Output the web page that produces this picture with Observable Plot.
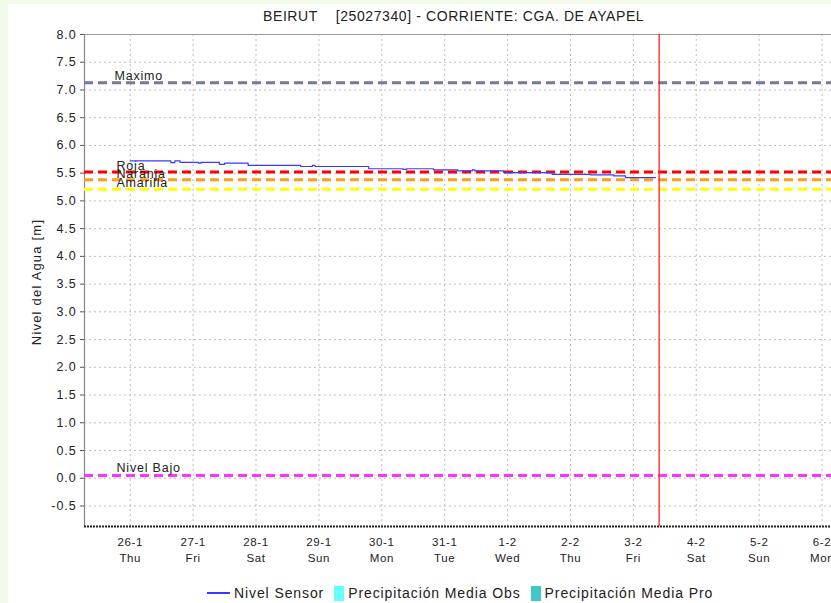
<!DOCTYPE html>
<html>
<head>
<meta charset="utf-8">
<script src="https://cdn.jsdelivr.net/npm/d3@7"></script>
<script src="https://cdn.jsdelivr.net/npm/@observablehq/plot@0.6"></script>
<style>
  html, body { margin: 0; padding: 0; }
  body { width: 831px; height: 603px; background: #f2fbe8; overflow: hidden; font-family: "Liberation Sans", Arial, sans-serif; }
  #wrap { position: relative; width: 831px; height: 603px; }
  #panel { position: absolute; left: 8px; top: 4px; right: 0; bottom: 0; background: #fff; }
  #chart { position: absolute; left: 0; top: 0; }
  #title { position: absolute; left: 263px; top: 8px; font-size: 14px; letter-spacing: 0.6px; color: #222; white-space: pre; }
  #ylabel { position: absolute; left: 36px; top: 282px; font-size: 13px; letter-spacing: 1.2px; color: #222; white-space: nowrap;
            transform: translate(-50%, -50%) rotate(-90deg); }
  #legend { position: absolute; left: 207px; top: 585px; font-size: 14px; letter-spacing: 0.9px; color: #222; display: flex; align-items: center; white-space: nowrap; }
  .sw-line { display: inline-block; width: 23px; height: 1.6px; margin-right: 4px; }
  .sw-box { display: inline-block; width: 10px; height: 15px; margin-left: 10px; margin-right: 4px; }
  g[aria-label="y-axis tick label"] text { letter-spacing: 0.9px; }
  g[aria-label="x-axis tick label"] text { letter-spacing: 0.6px; }
  g[aria-label="text"] text { letter-spacing: 0.8px; }
</style>
</head>
<body>
<div id="wrap">
  <div id="panel"></div>
  <div id="chart"></div>
  <div id="title">BEIRUT    [25027340] - CORRIENTE: CGA. DE AYAPEL</div>
  <div id="ylabel">Nivel del Agua [m]</div>
  <div id="legend"></div>
</div>
<script>
// ---- Data ----
const sensorTimes = [
  "2023-01-26T00:00Z", "2023-01-26T15:30Z", "2023-01-26T17:00Z", "2023-01-26T19:00Z",
  "2023-01-27T02:00Z", "2023-01-27T03:00Z", "2023-01-27T10:00Z", "2023-01-27T12:00Z",
  "2023-01-27T21:00Z", "2023-01-28T17:00Z", "2023-01-28T21:30Z", "2023-01-28T22:30Z",
  "2023-01-29T19:00Z", "2023-01-30T08:00Z", "2023-01-30T09:30Z", "2023-01-30T19:45Z",
  "2023-01-31T05:00Z", "2023-01-31T10:30Z", "2023-01-31T11:30Z", "2023-01-31T22:30Z",
  "2023-02-01T17:00Z", "2023-02-02T07:30Z", "2023-02-02T16:30Z", "2023-02-02T21:00Z",
  "2023-02-03T08:25Z"
];
const sensorLevels = [
  5.72, 5.69, 5.72, 5.695,
  5.68, 5.695, 5.66, 5.68,
  5.64, 5.62, 5.64, 5.62,
  5.58, 5.57, 5.58, 5.56,
  5.54, 5.56, 5.54, 5.51,
  5.48, 5.47, 5.45, 5.42,
  5.42
];

const thresholdNames  = ["Maximo", "Roja", "Naranja", "Amarilla", "Nivel Bajo"];
const thresholdValues = [7.13, 5.52, 5.38, 5.21, 0.05];
const thresholdColors = ["#6e7b9c", "#ff0000", "#ff9c1c", "#ffff00", "#ff33ff"];
const thresholdLabelTimes = ["2023-01-25T18:00Z", "2023-01-25T18:45Z", "2023-01-25T18:45Z", "2023-01-25T18:45Z", "2023-01-25T18:45Z"];
const thresholdLabelDy = [-7, -6, -6, -6, -7];

const xTickDates = ["2023-01-26", "2023-01-27", "2023-01-28", "2023-01-29", "2023-01-30", "2023-01-31",
                    "2023-02-01", "2023-02-02", "2023-02-03", "2023-02-04", "2023-02-05", "2023-02-06"];
const xTickDays  = ["Thu", "Fri", "Sat", "Sun", "Mon", "Tue", "Wed", "Thu", "Fri", "Sat", "Sun", "Mon"];
const yTicks = [-0.5, 0, 0.5, 1, 1.5, 2, 2.5, 3, 3.5, 4, 4.5, 5, 5.5, 6, 6.5, 7, 7.5, 8];

const nowTime = "2023-02-03T09:50Z";
const xDomain = ["2023-01-25T06:33Z", "2023-02-06T03:36Z"];
const yDomain = [-0.87, 8.0];

const legendItems = [
  {label: "Nivel Sensor", type: "line", color: "#3a3aff"},
  {label: "Precipitación Media Obs", type: "box", color: "#66ffff"},
  {label: "Precipitación Media Pro", type: "box", color: "#40c8c8"}
];

// ---- Build ----
const sensor = sensorTimes.map((t, i) => ({date: new Date(t), level: sensorLevels[i]}));
const thresholds = thresholdNames.map((n, i) => ({
  name: n, value: thresholdValues[i], color: thresholdColors[i],
  labelDate: new Date(thresholdLabelTimes[i]), dy: thresholdLabelDy[i]
}));
const xTicks = xTickDates.map(d => new Date(d + "T00:00Z"));
const tickLabel = new Map(xTicks.map((d, i) => [+d, `${d.getUTCDate()}-${d.getUTCMonth() + 1}\n${xTickDays[i]}`]));
const xD = xDomain.map(d => new Date(d));

const chart = Plot.plot({
  width: 831,
  height: 575,
  marginLeft: 84,
  marginRight: 0,
  marginTop: 34,
  marginBottom: 49,
  style: {background: "transparent", fontFamily: "'Liberation Sans', Arial, sans-serif", color: "#222"},
  x: {type: "utc", domain: xD},
  y: {domain: yDomain},
  marks: [
    Plot.gridY(yTicks, {stroke: "#bdbdbd", strokeOpacity: 1, strokeDasharray: "2,3"}),
    Plot.gridX(xTicks, {stroke: "#bdbdbd", strokeOpacity: 1, strokeDasharray: "2,3"}),
    Plot.ruleY([yDomain[1]], {stroke: "#999", strokeWidth: 1}),
    Plot.ruleX([xD[0]], {stroke: "#888", strokeWidth: 1.2}),
    ...thresholds.map(t => Plot.ruleY([t.value], {stroke: t.color, strokeWidth: 3, strokeDasharray: "9,5"})),
    ...thresholds.map(t => Plot.text([t], {x: "labelDate", y: "value", text: "name", dy: t.dy,
      textAnchor: "start", fontSize: 12.5, fill: "#222"})),
    Plot.line(sensor, {x: "date", y: "level", stroke: "#3a3aff", strokeWidth: 1.2, curve: "step-after"}),
    Plot.ruleX([new Date(nowTime)], {stroke: "#ff2020", strokeWidth: 1.3}),
    Plot.ruleY([yDomain[0]], {stroke: "#222", strokeWidth: 2.2, strokeDasharray: "2,1"}),
    Plot.axisY(yTicks, {tickSize: 4, tickPadding: 4, fontSize: 12.5, stroke: "#555",
      tickFormat: d => d.toFixed(1), label: null, fill: "#222"}),
    Plot.axisX(xTicks, {tickSize: 0, tickPadding: 8, fontSize: 11.5, lineHeight: 1.38,
      tickFormat: d => tickLabel.get(+d), label: null, fill: "#222"})
  ]
});
document.getElementById("chart").appendChild(chart);

const legend = document.getElementById("legend");
legendItems.forEach(item => {
  const sw = document.createElement("span");
  sw.className = item.type === "line" ? "sw-line" : "sw-box";
  sw.style.background = item.color;
  legend.appendChild(sw);
  const tx = document.createElement("span");
  tx.textContent = item.label;
  legend.appendChild(tx);
});
</script>
</body>
</html>
